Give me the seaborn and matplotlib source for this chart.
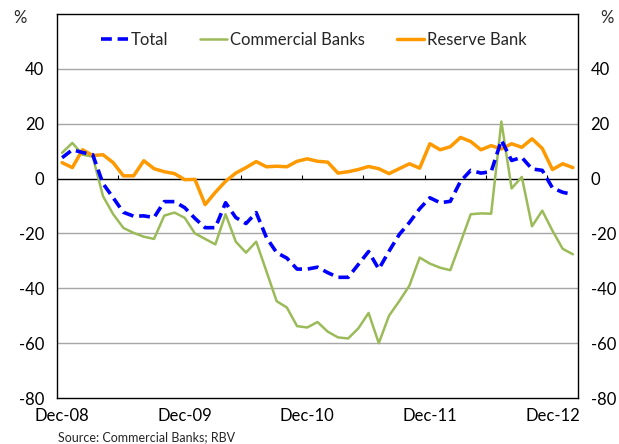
import numpy as np
import pandas as pd
import matplotlib
matplotlib.use("Agg")
import matplotlib.pyplot as plt
import seaborn as sns
from matplotlib.lines import Line2D

# ---- data (monthly, Dec-08 .. Feb-13) ----
months = pd.date_range("2008-12-01", "2013-02-01", freq="MS").strftime("%b-%y").tolist()
total = [7.6, 10.5, 9.5, 8.7, -1.8, -7, -12.3, -13.7, -13.6, -14.2,
         -8.4, -8.4, -10.6, -14.5, -17.9, -17.9, -8.8, -14.2, -16.4, -12.4,
         -21.5, -27, -29, -33, -33, -32.3, -34.3, -36, -36, -31.3,
         -26.6, -33, -26.5, -20.4, -16, -11, -7, -8.8, -8.3, -1,
         3, 2, 2.5, 14, 6.6, 7.7, 3.5, 3, -3.4, -5, -5.8]
commercial = [9.4, 13, 8.7, 8, -6.4, -13, -18, -19.8, -21.2, -22,
              -13.5, -12.4, -14.3, -20, -22, -24, -13, -23, -27, -23,
              -33.8, -44.7, -47, -53.8, -54.3, -52.3, -55.8, -57.9, -58.3, -54.6,
              -49, -60, -50, -44.7, -39, -28.8, -31, -32.5, -33.4, -23.3,
              -13, -12.7, -12.8, 20.8, -3.6, 0.6, -17.4, -11.7, -19, -25.6, -27.6]
reserve = [5.8, 4, 10.5, 8.4, 8.7, 5.8, 1, 1, 6.5, 3.6,
           2.5, 1.8, -0.4, -0.3, -9.5, -5, -1, 2, 4, 6.2,
           4.3, 4.5, 4.3, 6.3, 7.2, 6.3, 6, 2, 2.5, 3.3,
           4.4, 3.6, 1.8, 3.6, 5.4, 3.8, 12.7, 10.5, 11.6, 15,
           13.5, 10.5, 12, 10.8, 12.7, 11.4, 14.5, 11, 3.3, 5.4, 4]
series_names = ["Total", "Commercial Banks", "Reserve Bank"]
xtick_labels = ["Dec-08", "Dec-09", "Dec-10", "Dec-11", "Dec-12"]
yticks = [-80, -60, -40, -20, 0, 20, 40]

df = pd.DataFrame({"Month": months, "Total": total,
                   "Commercial Banks": commercial, "Reserve Bank": reserve})
df["idx"] = np.arange(len(df))
long = df.melt(id_vars=["Month", "idx"], value_vars=series_names,
               var_name="Series", value_name="Value")

colors = {"Total": "#0000FF", "Commercial Banks": "#9BBB59", "Reserve Bank": "#FF9900"}
widths = {"Total": 2.6, "Commercial Banks": 1.8, "Reserve Bank": 2.5}
total_dash = (3, 1.6)

sns.set_theme(style="white")
plt.rcParams["font.family"] = ["Lato", "DejaVu Sans"]

fig = plt.figure(figsize=(6.19, 4.44), dpi=100)
ax = fig.add_axes([57/619, 1-398/444, 521/619, 384/444])

# gridlines
for yv in [-60, -40, -20, 20, 40]:
    ax.axhline(yv, color="#A6A6A6", lw=1.0, zorder=0)
ax.axhline(0, color="black", lw=1.0, zorder=1)

order = ["Commercial Banks", "Reserve Bank", "Total"]
for name in order:
    sub = long[long["Series"] == name]
    sns.lineplot(data=sub, x="idx", y="Value", ax=ax, color=colors[name],
                 lw=widths[name], legend=False, zorder=3 if name == "Total" else 2)
    if name == "Total":
        ax.lines[-1].set_dashes(total_dash)

n = len(months)
ax.set_xlim(-0.5, n - 0.5)
ax.set_ylim(-80, 60)
ax.set_yticks(yticks)
ax.set_yticklabels([str(v) for v in yticks])
ax.set_xticks([0, 12, 24, 36, 48])
ax.set_xticklabels(xtick_labels)
ax.set_xlabel("")
ax.set_ylabel("")
ax.tick_params(axis="both", length=0, labelsize=12, colors="black")
ax.tick_params(axis="x", pad=7)
ax.tick_params(axis="y", pad=9)
for s in ax.spines.values():
    s.set_visible(True)
    s.set_color("black")
    s.set_linewidth(1.0)

# small tick marks on the zero axis, every 6 months
ax.vlines(np.arange(-0.5, n, 6), 0, 1.3, color="black", lw=0.8, zorder=1)

# right axis
ax2 = ax.twinx()
ax2.set_ylim(-80, 60)
ax2.set_yticks(yticks)
ax2.set_yticklabels([str(v) for v in yticks])
ax2.tick_params(axis="y", length=0, labelsize=12, pad=9, colors="black")
ax2.grid(False)
for s in ax2.spines.values():
    s.set_visible(False)

# legend
handles = [Line2D([0], [0], color=colors["Total"], lw=widths["Total"], dashes=total_dash),
           Line2D([0], [0], color=colors["Commercial Banks"], lw=1.8),
           Line2D([0], [0], color=colors["Reserve Bank"], lw=2.5)]
ax.legend(handles, series_names, loc="center", bbox_to_anchor=(0.493, 0.932),
          ncol=3, frameon=False, fontsize=12, handlelength=1.6,
          handletextpad=0.2, columnspacing=1.9)

fig.text(20/619, 1-18/444, "%", fontsize=12, ha="center", va="center")
fig.text(607/619, 1-18/444, "%", fontsize=12, ha="center", va="center")
fig.text(58/619, 1-437/444, "Source: Commercial Banks; RBV", fontsize=9,
         ha="left", va="center")

fig.savefig("out.png", dpi=100)
